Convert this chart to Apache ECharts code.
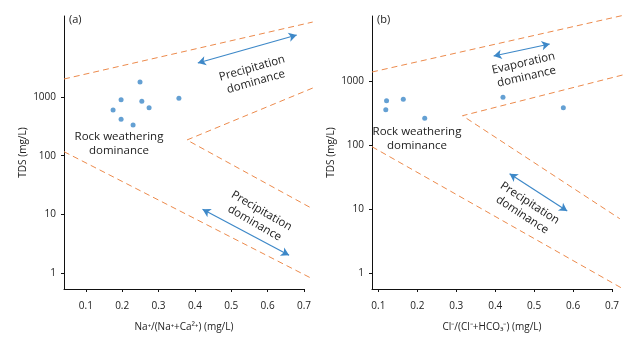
<!DOCTYPE html>
<html>
<head>
<meta charset="utf-8">
<script src="https://cdn.jsdelivr.net/npm/echarts@6/dist/echarts.min.js"></script>
<style>html,body{margin:0;padding:0;background:#fff}#c{width:641px;height:344px}</style>
</head>
<body>
<div id="c"></div>
<script>
// ---- data ----
const xTicks = [0.1, 0.2, 0.3, 0.4, 0.5, 0.6, 0.7];
const yTicks = [1, 10, 100, 1000];
// panel (a): Na+/(Na+ + Ca2+) vs TDS
const naRatio = [0.249, 0.197, 0.254, 0.356, 0.274, 0.175, 0.197, 0.230];
const tdsA    = [1800, 900, 845, 950, 657, 601, 417, 333];
// panel (b): Cl-/(Cl- + HCO3-) vs TDS
const clRatio = [0.121, 0.119, 0.164, 0.219, 0.420, 0.575];
const tdsB    = [492, 357, 518, 261, 556, 383];
// boundary (dashed) lines: [x, TDS]
const aUpper   = [[0.04, 2027], [0.724, 18970]];
const aChevron = [[0.724, 1423], [0.378, 185], [0.724, 12.4]];
const aLower   = [[0.04, 117], [0.724, 0.79]];
const bUpper   = [[0.0836, 1383], [0.725, 10500]];
const bChevron = [[0.727, 1241], [0.316, 287], [0.720, 7.05]];
const bLower   = [[0.0836, 94], [0.725, 0.58]];
// arrows: [[x1,y1],[x2,y2]]
const aArrowTop = [[0.408, 3800], [0.680, 11400]];
const aArrowBot = [[0.421, 12.2], [0.659, 2.0]];
const bArrowTop = [[0.396, 2458], [0.540, 3790]];
const bArrowBot = [[0.437, 35.6], [0.585, 9.3]];

const FONT = 'Open Sans';
const TXT = '#222';
const BLUE = '#3d88c8';
const ORANGE = '#ec8a4c';

const A = {xmin: 0.04, ymin: 0.533, ymax: 24050, left: 64};
const B = {xmin: 0.0836, ymin: 0.562, ymax: 10380, left: 372};
const XMAX = 0.7, XEXT = 0.73, W = 240, TOP = 16, H = 273;

function xAxis(idx, min, name) {
  return {
    type: 'value', gridIndex: idx, min: min, max: XMAX,
    name: name, nameLocation: 'middle', nameGap: 33,
    nameTextStyle: {fontFamily: FONT, fontSize: 10, color: TXT},
    axisLine: {lineStyle: {color: '#111', width: 1}},
    axisTick: {show: true, length: 3, customValues: xTicks, lineStyle: {color: '#111'}},
    axisLabel: {customValues: xTicks, margin: 12, fontFamily: FONT, fontSize: 10, color: TXT,
      formatter: v => String(Math.round(v * 10) / 10)},
    splitLine: {show: false}
  };
}
function yAxis(idx, min, max) {
  return {
    type: 'log', logBase: 10, gridIndex: idx, min: min, max: max,
    name: 'TDS (mg/L)', nameLocation: 'middle', nameGap: 36, nameRotate: 90,
    nameTextStyle: {fontFamily: FONT, fontSize: 10, color: TXT},
    axisLine: {show: true, lineStyle: {color: '#111', width: 1}},
    axisTick: {show: true, length: 3, customValues: yTicks, lineStyle: {color: '#111'}},
    axisLabel: {customValues: yTicks, margin: 8, fontFamily: FONT, fontSize: 10, color: TXT,
      formatter: v => String(Math.round(v))},
    splitLine: {show: false}, minorTick: {show: false}
  };
}
// hidden overlay axes (same scale, extended to the right) so boundary lines can run past the axis end
function hiddenX(idx, min) {
  return {type: 'value', gridIndex: idx, min: min, max: XEXT, show: false, splitLine: {show: false}};
}
function hiddenY(idx, min, max) {
  return {type: 'log', logBase: 10, gridIndex: idx, min: min, max: max, show: false, splitLine: {show: false}};
}
function dashed(idx, data) {
  return {type: 'line', xAxisIndex: idx, yAxisIndex: idx, data: data, symbol: 'none',
    clip: false, silent: true, animation: false,
    lineStyle: {color: ORANGE, width: 1, type: [6, 4]}};
}
function arrows(list) {
  return {
    symbol: ['arrow', 'arrow'], symbolSize: [7, 8], silent: true, animation: false,
    label: {show: false},
    lineStyle: {color: BLUE, width: 1.2, type: 'solid'},
    data: list.map(a => [{coord: a[0]}, {coord: a[1]}])
  };
}
function pts(xs, ys) { return xs.map((x, i) => [x, ys[i]]); }
const extW = p => W * (XEXT - p.xmin) / (XMAX - p.xmin);

const chart = echarts.init(document.getElementById('c'), null, {renderer: 'canvas'});
const txtStyle = (s, extra) => Object.assign({text: s, fill: TXT, font: '11.5px "' + FONT + '"',
  align: 'center', verticalAlign: 'middle', lineHeight: 14}, extra || {});
const deg = d => d * Math.PI / 180;

chart.setOption({
  animation: false,
  grid: [
    {left: A.left, top: TOP, width: W, height: H},
    {left: B.left, top: TOP, width: W, height: H},
    {left: A.left, top: TOP, width: extW(A), height: H},
    {left: B.left, top: TOP, width: extW(B), height: H}
  ],
  xAxis: [
    xAxis(0, A.xmin, 'Na⁺/(Na⁺+Ca²⁺) (mg/L)'),
    xAxis(1, B.xmin, 'Cl⁻/(Cl⁻+HCO₃⁻) (mg/L)'),
    hiddenX(2, A.xmin), hiddenX(3, B.xmin)
  ],
  yAxis: [yAxis(0, A.ymin, A.ymax), yAxis(1, B.ymin, B.ymax),
    hiddenY(2, A.ymin, A.ymax), hiddenY(3, B.ymin, B.ymax)],
  series: [
    dashed(2, aUpper), dashed(2, aChevron), dashed(2, aLower),
    dashed(3, bUpper), dashed(3, bChevron), dashed(3, bLower),
    {type: 'scatter', xAxisIndex: 0, yAxisIndex: 0, data: pts(naRatio, tdsA),
      symbolSize: 5, itemStyle: {color: BLUE},
      markLine: arrows([aArrowTop, aArrowBot])},
    {type: 'scatter', xAxisIndex: 1, yAxisIndex: 1, data: pts(clRatio, tdsB),
      symbolSize: 5, itemStyle: {color: BLUE},
      markLine: arrows([bArrowTop, bArrowBot])}
  ],
  graphic: [
    {type: 'text', x: 69, y: 20, style: txtStyle('(a)', {align: 'left', font: '11px "' + FONT + '"'})},
    {type: 'text', x: 377, y: 20, style: txtStyle('(b)', {align: 'left', font: '11px "' + FONT + '"'})},
    {type: 'text', x: 254, y: 75, rotation: deg(16), style: txtStyle('Precipitation\ndominance')},
    {type: 'text', x: 258, y: 217, rotation: deg(-30), style: txtStyle('Precipitation\ndominance')},
    {type: 'text', x: 119, y: 144, style: txtStyle('Rock weathering\ndominance')},
    {type: 'text', x: 525, y: 70, rotation: deg(13), style: txtStyle('Evaporation\ndominance')},
    {type: 'text', x: 526, y: 209, rotation: deg(-33), style: txtStyle('Precipitation\ndominance')},
    {type: 'text', x: 417, y: 139, style: txtStyle('Rock weathering\ndominance')}
  ]
});
</script>
</body>
</html>
